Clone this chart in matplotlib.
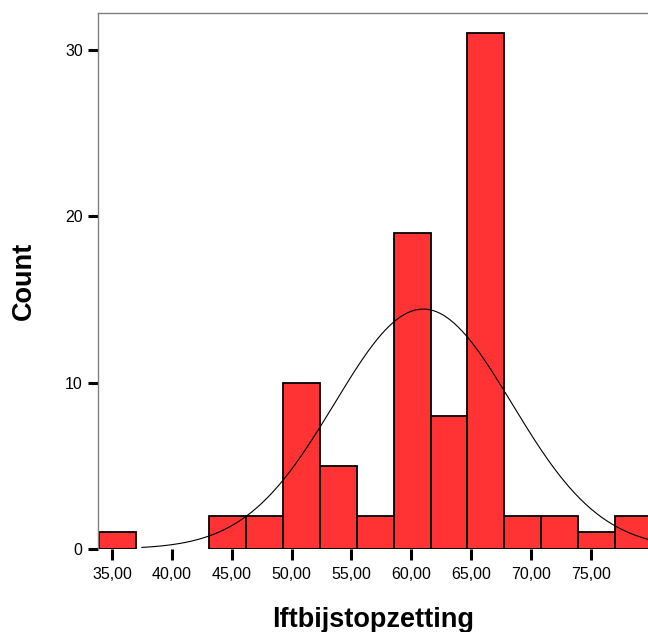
import numpy as np
import matplotlib
matplotlib.use('Agg')
import matplotlib.pyplot as plt
from matplotlib.ticker import FuncFormatter

# histogram of age at stop (lftbijstopzetting)
BIN_START = 33.9
BIN_WIDTH = 3.08
counts = [1, 0, 0, 2, 2, 10, 5, 2, 19, 8, 31, 2, 2, 1, 2]
x_ticks = [35, 40, 45, 50, 55, 60, 65, 70, 75]
y_ticks = [0, 10, 20, 30]

# fitted normal curve parameters
fit_mean = 61.0
fit_sd = 7.41

BAR_COLOR = '#ff3333'


def main():
    plt.rcParams['font.family'] = ['Liberation Sans', 'DejaVu Sans']

    fig = plt.figure(figsize=(6.48, 6.32), dpi=100)
    ax = fig.add_axes([98 / 648, 83 / 632, 550 / 648, 536 / 632])

    edges = BIN_START + BIN_WIDTH * np.arange(len(counts) + 1)
    for left, c in zip(edges[:-1], counts):
        if c > 0:
            ax.bar(left, c, width=BIN_WIDTH, align='edge',
                   color=BAR_COLOR, edgecolor='black', linewidth=1.3,
                   zorder=2)

    n = sum(counts)
    xs = np.linspace(37.5, 82, 400)
    ys = n * BIN_WIDTH * np.exp(-0.5 * ((xs - fit_mean) / fit_sd) ** 2) \
        / (fit_sd * np.sqrt(2 * np.pi))
    ax.plot(xs, ys, color='black', linewidth=0.8, zorder=3)

    ax.set_xlim(33.83, 79.78)
    ax.set_ylim(0, 32.23)

    ax.set_xticks(x_ticks)
    ax.xaxis.set_major_formatter(
        FuncFormatter(lambda v, p: f'{v:.2f}'.replace('.', ',')))
    ax.set_yticks(y_ticks)

    ax.tick_params(axis='both', direction='out', length=7, width=2.2,
                   color='black', labelsize=11.5, pad=4)
    ax.tick_params(axis='x', length=8, pad=5)

    for side in ('left', 'top'):
        ax.spines[side].set_color('#808080')
        ax.spines[side].set_linewidth(1.0)
    ax.spines['right'].set_visible(False)
    ax.spines['bottom'].set_visible(False)

    ax.set_xlabel('lftbijstopzetting', fontsize=19.5, fontweight='bold',
                  labelpad=18)
    ax.set_ylabel('Count', fontsize=19.5, fontweight='bold')
    ax.yaxis.set_label_coords((37 - 98) / 550, 0.5)

    fig.savefig('out.png', dpi=100)


if __name__ == '__main__':
    main()
